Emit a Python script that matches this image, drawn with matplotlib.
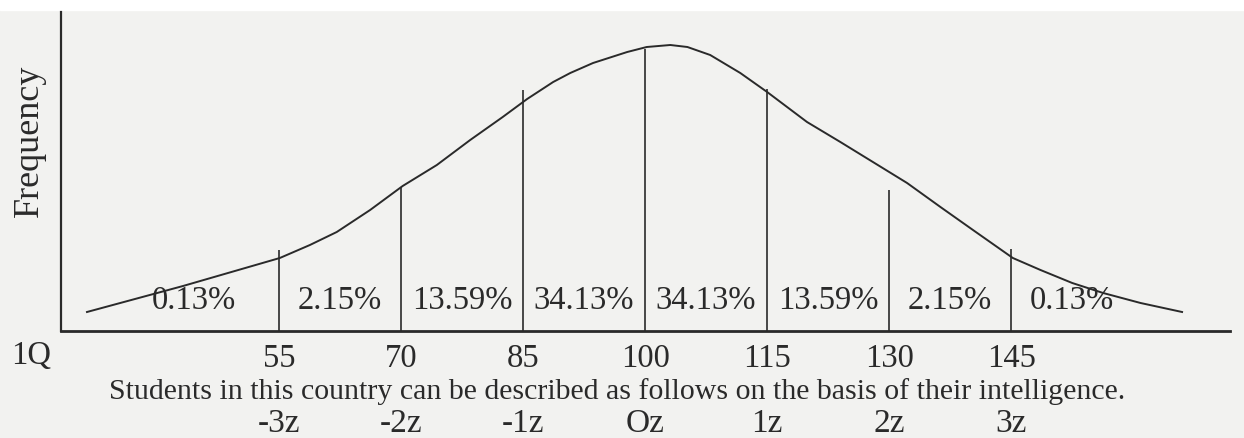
import matplotlib.pyplot as plt
import matplotlib.patches as mpatches

# IQ boundaries, percentages between them, z-scores
iq_bounds = [55, 70, 85, 100, 115, 130, 145]
z_labels = ["-3z", "-2z", "-1z", "Oz", "1z", "2z", "3z"]
pct_labels = ["0.13%", "2.15%", "13.59%", "34.13%", "34.13%", "13.59%", "2.15%", "0.13%"]

# hand-drawn curve (IQ, frequency in arbitrary units)
curve_iq = [31.4, 43.2, 55.1, 58.8, 62.1, 66.2, 70.2, 74.4, 78.5, 82.5, 85.5, 88.7,
            90.8, 93.6, 97.8, 100.2, 103.1, 105.2, 108.0, 111.7, 115.0, 119.9,
            124.0, 128.0, 132.2, 136.3, 140.3, 145.2, 148.6, 152.5, 156.3, 160.9, 166.0]
curve_freq = [19, 45, 73, 86, 99, 121, 145, 166, 191, 214, 232, 249,
              258, 268, 279, 284, 286, 284, 276, 258, 239, 209,
              189, 169, 148, 124, 101, 73, 61, 48, 38, 28, 19]

# height of each divider line
line_tops = [81, 144, 241, 282, 242, 141, 82]

ink = "#2a2a2a"
serif = ["Liberation Serif", "DejaVu Serif"]
fs = 23.5

fig = plt.figure(figsize=(12.44, 4.38), dpi=100, facecolor="#f2f2f0")
fig.patches.append(mpatches.Rectangle((0, 0.977), 1, 0.03, transform=fig.transFigure,
                                      color="white", zorder=-1))
ax = fig.add_axes([0.049, 0.2443, 0.9398, 0.7283])
ax.set_facecolor("none")

ax.plot(curve_iq, curve_freq, color=ink, lw=1.4)
ax.vlines(iq_bounds, 0, line_tops, color=ink, lw=1.2)

# percentage labels between the dividers
edges = [34] + iq_bounds + [160]
for i, lab in enumerate(pct_labels):
    xm = (edges[i] + edges[i + 1]) / 2
    ax.text(xm, 30, lab, ha="center", va="center", fontsize=fs, family=serif, color=ink)

ax.set_xlim(28.2, 171.9)
ax.set_ylim(0, 319)
for s in ["top", "right"]:
    ax.spines[s].set_visible(False)
ax.spines["left"].set_linewidth(1.6)
ax.spines["bottom"].set_linewidth(2.0)
ax.spines["left"].set_color(ink)
ax.spines["bottom"].set_color(ink)

ax.set_yticks([])
ax.set_xticks(iq_bounds)
ax.set_xticklabels([str(v) for v in iq_bounds], fontsize=fs, family=serif, color=ink)
ax.tick_params(axis="x", length=0, pad=9)

# z-score row
for xv, zl in zip(iq_bounds, z_labels):
    ax.text(xv, -0.29, zl, transform=ax.get_xaxis_transform(), ha="center", va="center",
            fontsize=fs + 0.5, family=serif, color=ink)

fig.text(0.024, 0.678, "Frequency", rotation=90, ha="center", va="center",
         fontsize=26, family=serif, color=ink)
fig.text(0.025, 0.187, "1Q", ha="center", va="center", fontsize=fs, family=serif, color=ink)
fig.text(0.496, 0.107, "Students in this country can be described as follows on the basis of their intelligence.",
         ha="center", va="center", fontsize=21.5, family=serif, color=ink)

plt.savefig("out.png", dpi=100, facecolor=fig.get_facecolor())
plt.close()
